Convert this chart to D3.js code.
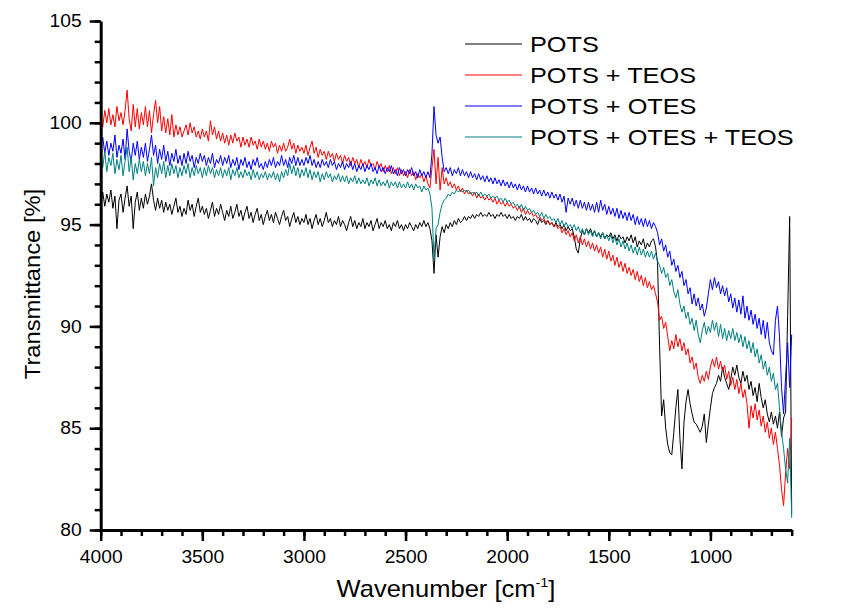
<!DOCTYPE html>
<html><head><meta charset="utf-8">
<script src="https://cdn.jsdelivr.net/npm/d3@7"></script>
<style>body{margin:0;background:#fff}svg{display:block}</style>
</head><body>
<svg id="chart" width="854" height="613"></svg>
<script>
// sampling grid (cm-1), 4000 -> 600 every 10
const wavenumbers = d3.range(4000, 599, -10);

const seriesNames = ["POTS", "POTS + TEOS", "POTS + OTES", "POTS + OTES + TEOS"];
const seriesColors = ["#000000", "#ff0000", "#0000ff", "#008080"];

const pots = [
96.0,96.6,95.9,96.5,96.1,96.7,95.8,96.4,94.8,96.2,
96.5,95.6,96.3,96.9,95.9,96.4,94.8,96.1,96.6,95.7,
96.3,95.8,96.5,96.0,96.4,97.0,96.2,95.7,96.3,95.8,
96.2,95.6,96.1,95.7,96.0,95.5,95.9,96.3,95.6,95.9,
95.4,95.8,95.5,96.2,95.7,96.0,95.4,95.9,96.3,95.6,
95.9,95.5,95.8,95.3,95.7,96.1,95.4,95.8,95.5,96.0,
95.6,95.2,95.7,95.4,95.9,95.3,95.6,96.0,95.4,95.7,
95.2,95.6,95.9,95.3,95.6,95.1,95.5,95.8,95.2,95.5,
95.0,95.4,95.7,95.2,95.5,95.1,95.6,95.3,95.0,95.4,
95.7,95.2,95.4,94.9,95.3,95.6,95.1,95.4,95.0,95.3,
95.1,95.5,95.0,95.3,94.8,95.2,95.5,95.0,95.3,94.9,
95.2,95.6,95.1,95.3,94.9,95.2,95.0,95.4,94.9,95.2,
95.0,94.7,95.1,95.4,94.9,95.2,94.8,95.1,94.9,95.3,
94.8,95.1,94.9,95.2,94.7,95.0,95.3,94.8,95.1,94.9,
95.2,94.8,95.0,94.7,95.1,94.9,95.2,94.8,95.0,94.7,
95.0,94.8,95.1,94.9,94.7,95.0,94.8,95.1,94.9,95.2,
94.9,95.1,94.8,94.2,92.6,94.5,93.4,94.4,94.9,94.6,
95.0,94.8,95.1,94.9,95.2,95.0,95.3,95.1,95.2,95.4,
95.2,95.4,95.3,95.5,95.3,95.5,95.4,95.6,95.4,95.5,
95.4,95.6,95.4,95.5,95.3,95.5,95.4,95.6,95.4,95.5,
95.3,95.5,95.3,95.4,95.2,95.4,95.3,95.5,95.2,95.4,
95.2,95.3,95.1,95.3,95.2,95.0,95.3,95.1,95.2,95.0,
95.2,95.0,95.1,94.9,95.1,94.9,95.0,94.8,95.0,94.7,
94.9,94.7,94.8,94.4,93.8,93.6,94.3,94.7,94.5,94.8,
94.6,94.8,94.5,94.7,94.4,94.6,94.4,94.6,94.3,94.5,
94.4,94.6,94.3,94.5,94.2,94.5,94.3,94.4,94.1,94.4,
94.2,94.5,94.1,94.4,93.9,94.2,94.0,94.3,93.8,94.1,
93.9,94.2,94.3,93.9,93.1,89.0,85.6,86.4,85.0,84.2,
83.8,83.7,84.8,86.0,86.9,84.5,83.0,85.3,86.3,86.9,
86.2,85.7,85.3,85.2,85.0,84.8,85.1,85.7,84.3,85.2,
86.0,86.7,87.0,87.2,87.6,87.3,88.0,87.5,87.2,86.9,
87.4,88.0,87.6,88.1,87.5,87.2,87.8,87.3,87.6,86.9,
87.3,86.6,87.0,86.3,87.2,86.5,86.0,86.4,85.7,85.3,
85.8,85.2,85.6,85.0,85.8,84.6,85.5,85.8,90.5,95.4,
80.8];

const potsTeos = [
100.2,99.8,100.6,100.0,100.7,99.9,100.4,99.8,100.8,100.1,
100.5,99.9,100.6,101.6,100.2,99.6,100.9,99.8,100.7,99.7,
100.5,99.9,100.8,99.8,100.6,99.5,100.4,101.1,100.0,100.8,
99.6,100.3,99.5,100.2,99.4,100.4,99.3,99.9,99.4,99.8,
99.3,99.6,99.9,99.4,100.0,99.5,99.8,99.3,99.6,99.2,
99.7,99.3,99.6,99.1,100.1,99.4,99.8,99.2,99.6,99.1,
99.5,99.0,99.4,98.9,99.4,99.0,99.5,99.1,99.3,98.8,
99.3,98.9,99.2,98.8,99.3,98.9,99.1,98.7,99.2,98.8,
99.1,98.7,99.0,98.6,99.1,98.8,99.0,98.5,98.9,98.6,
99.0,98.6,98.8,99.2,98.7,99.0,98.5,98.9,98.6,98.8,
98.5,98.9,98.4,98.8,99.1,98.5,98.8,98.3,98.7,98.4,
98.6,98.2,98.6,98.3,98.5,98.1,98.5,98.2,98.4,98.0,
98.4,98.1,98.3,97.9,98.3,98.0,98.2,97.8,98.2,97.9,
98.1,97.8,98.2,97.9,98.0,97.7,98.1,97.8,98.0,97.6,
97.9,97.6,97.9,97.5,97.8,97.5,97.8,97.4,97.7,97.4,
97.6,97.3,97.7,97.4,97.6,97.2,97.5,97.3,97.5,97.1,
97.4,97.0,96.8,97.8,98.7,97.0,98.3,96.7,97.8,97.0,
97.3,96.9,97.1,96.8,97.0,96.7,96.9,96.6,96.8,96.5,
96.7,96.5,96.6,96.4,96.6,96.3,96.5,96.3,96.4,96.2,
96.4,96.2,96.3,96.1,96.3,96.0,96.2,96.0,96.1,95.9,
96.1,95.9,96.0,95.8,95.9,95.7,95.9,95.6,95.8,95.5,
95.7,95.5,95.6,95.4,95.5,95.3,95.4,95.2,95.3,95.1,
95.2,95.0,95.1,94.9,95.0,94.8,94.9,94.6,94.8,94.5,
94.7,94.4,94.6,94.2,94.5,94.1,94.4,94.0,94.3,93.9,
94.2,93.8,94.1,93.7,94.0,93.6,93.9,93.4,93.8,93.3,
93.7,93.2,93.5,93.0,93.4,92.9,93.2,92.7,93.1,92.6,
92.9,92.5,92.8,92.3,92.7,92.2,92.5,92.0,92.4,91.9,
92.2,91.8,92.0,91.6,91.2,90.3,90.5,89.9,90.2,89.5,
88.8,89.3,88.9,89.6,89.0,89.4,88.8,89.2,88.6,88.9,
88.2,88.5,87.9,88.2,87.5,87.2,87.6,87.3,87.8,87.4,
88.0,88.4,88.0,88.5,87.9,88.3,87.8,88.1,87.4,87.8,
87.1,87.5,86.9,87.4,86.7,87.2,86.5,86.9,86.2,85.0,
86.1,85.5,86.2,85.4,85.9,85.1,85.6,84.8,85.3,84.5,
85.0,84.2,84.8,84.0,83.2,82.0,81.2,82.8,84.0,83.0,
85.5];

const potsOtes = [
98.8,99.3,98.5,99.1,98.4,99.0,98.6,99.4,98.3,98.9,
98.5,99.2,98.2,99.7,98.6,98.1,99.0,98.4,99.1,98.2,
98.8,98.3,99.0,98.1,98.7,99.4,98.4,98.9,98.0,98.7,
98.2,98.9,98.1,98.6,97.9,98.5,98.1,98.7,98.0,98.4,
97.9,98.5,98.0,98.6,98.1,98.4,97.8,98.3,98.0,98.5,
98.1,98.4,97.9,98.3,98.0,98.5,97.8,98.2,98.0,98.4,
97.9,98.3,98.0,98.4,97.8,98.2,97.9,98.3,97.7,98.2,
97.9,98.3,97.8,98.1,97.7,98.2,97.9,98.3,97.8,98.0,
97.7,98.1,97.8,98.2,97.9,98.3,97.8,98.1,97.9,98.4,
97.9,98.2,97.8,98.3,98.0,98.4,97.9,98.3,97.9,98.2,
97.9,98.3,98.0,98.4,97.9,98.2,97.8,98.1,97.8,98.2,
97.9,98.1,97.8,98.2,97.9,98.1,97.7,98.0,97.8,98.1,
97.7,98.0,97.8,98.1,97.7,98.0,97.6,97.9,97.7,98.0,
97.6,97.9,97.7,98.0,97.6,97.8,97.5,97.9,97.6,97.8,
97.5,97.8,97.6,97.9,97.5,97.7,97.4,97.8,97.5,97.7,
97.4,97.7,97.5,97.8,97.4,97.6,97.3,97.7,97.4,97.6,
97.3,97.6,97.3,98.5,100.8,99.4,99.0,99.3,98.3,97.6,
97.8,97.5,97.8,97.4,97.7,97.5,97.8,97.4,97.7,97.4,
97.6,97.3,97.6,97.3,97.5,97.2,97.5,97.2,97.4,97.1,
97.4,97.1,97.3,97.0,97.3,97.0,97.2,96.9,97.2,96.9,
97.1,96.8,97.1,96.8,97.0,96.7,97.0,96.7,96.9,96.6,
96.9,96.6,96.8,96.5,96.8,96.5,96.7,96.4,96.7,96.4,
96.6,96.3,96.6,96.3,96.5,96.2,96.5,96.1,96.4,95.6,
96.3,96.0,96.3,95.9,96.2,95.8,96.2,95.8,96.1,95.7,
96.1,95.7,96.0,95.6,96.1,95.6,96.2,95.7,96.0,95.5,
95.9,95.5,95.8,95.4,95.8,95.3,95.7,95.3,95.6,95.2,
95.6,95.2,95.5,95.0,95.4,95.0,95.3,94.9,95.3,94.9,
95.2,94.8,95.1,94.9,94.6,94.0,94.3,93.7,94.0,93.4,
93.7,93.0,93.3,92.7,93.0,92.4,92.7,92.0,92.3,91.6,
91.9,91.1,91.6,91.0,91.4,90.8,91.1,90.5,90.9,91.6,
92.3,91.8,92.4,91.9,92.2,91.6,92.0,91.5,91.9,91.2,
91.6,90.9,91.4,90.7,91.3,90.6,91.5,90.4,91.0,90.3,
90.8,90.1,90.6,89.9,90.4,89.6,90.3,89.4,90.2,89.2,
88.8,88.6,90.3,91.0,89.5,87.0,85.7,87.5,89.2,87.0,
89.6];

const potsOtesTeos = [
98.4,97.8,98.6,97.6,98.3,97.9,98.5,97.5,98.2,97.7,
98.4,97.4,98.1,98.8,97.6,98.3,97.2,98.0,97.5,98.2,
97.6,98.1,97.4,98.0,97.5,98.3,96.9,97.8,97.3,98.0,
97.5,98.1,97.3,97.9,97.4,98.0,97.5,97.9,97.3,97.8,
97.4,97.9,97.5,98.0,97.3,97.8,97.4,97.9,97.5,97.8,
97.3,97.8,97.4,97.9,97.5,97.8,97.3,97.7,97.4,97.8,
97.3,97.7,97.4,97.8,97.2,97.7,97.4,97.8,97.3,97.6,
97.3,97.7,97.4,97.6,97.2,97.7,97.3,97.6,97.2,97.5,
97.3,97.6,97.2,97.5,97.3,97.6,97.2,97.5,97.1,97.6,
97.3,97.7,97.4,98.0,97.5,97.9,97.4,97.8,97.3,97.7,
97.4,97.8,97.3,97.7,97.2,97.6,97.3,97.6,97.1,97.5,
97.2,97.6,97.3,97.5,97.1,97.4,97.2,97.5,97.1,97.4,
97.1,97.4,97.0,97.3,97.1,97.4,97.0,97.3,97.0,97.2,
97.0,97.3,96.9,97.2,97.0,97.3,96.9,97.2,96.9,97.1,
96.9,97.2,96.8,97.1,96.9,97.1,96.8,97.1,96.8,97.0,
96.8,97.1,96.8,97.0,96.7,97.0,96.8,96.9,96.6,96.9,
96.7,96.8,96.5,95.8,93.3,94.8,95.0,95.6,96.0,96.2,
96.3,96.5,96.4,96.6,96.5,96.7,96.6,96.7,96.6,96.7,
96.6,96.7,96.5,96.6,96.5,96.6,96.4,96.6,96.4,96.5,
96.4,96.5,96.3,96.4,96.3,96.4,96.2,96.3,96.1,96.3,
96.1,96.2,96.0,96.1,95.9,96.0,95.8,96.0,95.7,95.9,
95.7,95.8,95.6,95.7,95.5,95.6,95.4,95.6,95.3,95.5,
95.3,95.4,95.2,95.3,95.1,95.3,95.0,95.2,94.9,95.1,
94.9,95.0,94.8,95.0,94.7,94.9,94.6,94.8,94.5,94.8,
94.5,94.7,94.4,94.7,94.4,94.6,94.3,94.6,94.3,94.5,
94.2,94.5,94.1,94.4,94.0,94.3,93.9,94.2,93.8,94.1,
93.7,94.0,93.6,93.9,93.5,93.9,93.5,93.8,93.4,93.7,
93.4,93.7,93.3,93.6,93.2,93.0,92.6,92.9,92.4,92.6,
92.0,92.3,91.7,91.4,91.8,91.1,90.7,91.0,90.4,90.7,
90.1,90.4,89.8,90.3,89.6,89.2,89.8,90.2,89.6,90.0,
89.7,90.3,89.8,90.2,89.5,90.1,89.4,89.9,89.3,89.8,
89.4,89.9,89.3,89.7,89.2,89.6,89.0,89.5,88.9,89.3,
88.7,89.2,88.5,88.9,88.2,88.6,87.9,88.3,87.6,88.0,
87.3,87.7,86.9,87.2,86.0,84.8,84.0,83.0,82.3,84.5,
80.6];

const xMajorTicks = [4000, 3500, 3000, 2500, 2000, 1500, 1000];
const xMinorTicks = d3.range(4000, 599, -100);
const yMajorTicks = [80, 85, 90, 95, 100, 105];
const yMinorTicks = d3.range(80, 105.5, 1);

const FONT = "'Liberation Sans', Arial, Helvetica, sans-serif";
const svg = d3.select("#chart");
const x = d3.scaleLinear().domain([4000, 600]).range([100.7, 791.7]);
const y = d3.scaleLinear().domain([80, 105]).range([530, 21]);

// lines
const allSeries = [pots, potsTeos, potsOtes, potsOtesTeos];
const line = d3.line().x((d, i) => x(wavenumbers[i])).y(d => y(d));
const plot = svg.append("g");
allSeries.forEach((vals, k) => {
  plot.append("path").datum(vals)
    .attr("d", line)
    .attr("fill", "none")
    .attr("stroke", seriesColors[k])
    .attr("stroke-width", 1)
    .attr("stroke-linejoin", "round");
});

// axes
const sx = 1.07;
function styleAxis(g) {
  g.selectAll("path.domain").attr("stroke", "#000").attr("stroke-width", 3);
  g.selectAll(".tick line").attr("stroke", "#000").attr("stroke-width", 2.5);
}
const xMinor = svg.append("g").attr("transform", "translate(0,530)")
  .call(d3.axisBottom(x).tickValues(xMinorTicks).tickSize(6).tickSizeOuter(0).tickFormat(""));
xMinor.select("path.domain").remove();
styleAxis(xMinor);
const xAxis = svg.append("g").attr("transform", "translate(0,530)")
  .call(d3.axisBottom(x).tickValues(xMajorTicks).tickSize(11).tickSizeOuter(0).tickPadding(9).tickFormat(d3.format("d")));
styleAxis(xAxis);
xAxis.selectAll("text").attr("font-family", FONT).attr("font-size", 18).attr("fill", "#000")
  .attr("transform", `scale(${sx},1)`);

const yMinor = svg.append("g").attr("transform", "translate(100.7,0)")
  .call(d3.axisLeft(y).tickValues(yMinorTicks).tickSize(6).tickSizeOuter(0).tickFormat(""));
yMinor.select("path.domain").remove();
styleAxis(yMinor);
const yAxis = svg.append("g").attr("transform", "translate(100.7,0)")
  .call(d3.axisLeft(y).tickValues(yMajorTicks).tickSize(11).tickSizeOuter(0).tickPadding(8).tickFormat(d3.format("d")));
styleAxis(yAxis);
yAxis.selectAll("text").attr("font-family", FONT).attr("font-size", 18).attr("fill", "#000")
  .attr("x", -19 / sx).attr("transform", `scale(${sx},1)`);

// axis titles
const xt = svg.append("text")
  .attr("transform", "translate(446,597) scale(1.11,1)")
  .attr("text-anchor", "middle").attr("font-family", FONT).attr("font-size", 23).attr("fill", "#000");
xt.append("tspan").text("Wavenumber [cm");
xt.append("tspan").attr("font-size", 13).attr("dy", -10).text("-1");
xt.append("tspan").attr("dy", 10).text("]");

svg.append("text")
  .attr("transform", "translate(40,284) rotate(-90) scale(1.08,1)")
  .attr("text-anchor", "middle").attr("font-family", FONT).attr("font-size", 22).attr("fill", "#000")
  .text("Transmittance [%]");

// legend
const legendRowsY = [44, 75, 106, 137];
seriesNames.forEach((name, k) => {
  const ly = legendRowsY[k];
  svg.append("line").attr("x1", 465).attr("x2", 522).attr("y1", ly).attr("y2", ly)
    .attr("stroke", seriesColors[k]).attr("stroke-width", 1);
  svg.append("text")
    .attr("transform", `translate(530,${ly + 8}) scale(1.15,1)`)
    .attr("font-family", FONT).attr("font-size", 22).attr("fill", "#000")
    .text(name);
});
</script>
</body></html>
